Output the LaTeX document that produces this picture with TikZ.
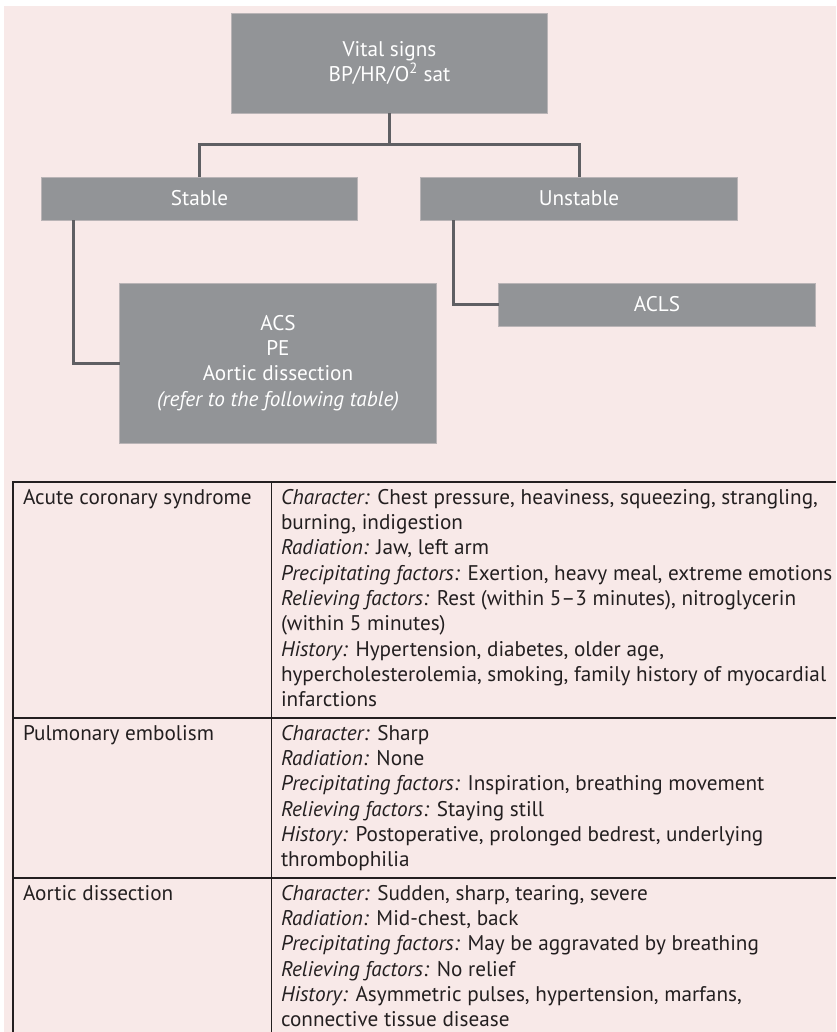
\documentclass[tikz,border=0pt]{standalone}
\usepackage{fontspec}
\setmainfont{PT Sans}
\usetikzlibrary{calc}
\definecolor{bgpink}{HTML}{F8E9E8}
\definecolor{boxgrey}{HTML}{929497}
\definecolor{boxedge}{HTML}{B9B4B6}
\definecolor{connline}{HTML}{5F5F63}
\definecolor{inkdark}{HTML}{231F20}
\begin{document}
\begin{tikzpicture}[x=0.75pt,y=-0.75pt,
  every node/.style={inner sep=0pt,outer sep=0pt},
  txt/.style={font=\fontsize{15.9}{19}\selectfont},
  greybox/.style={txt,rectangle,fill=boxgrey,draw=boxedge,line width=0.6pt,
    text=white,align=center,minimum width=237.5pt},
  conn/.style={draw=connline,line width=2.25pt},
  rule/.style={draw=inkdark,line width=0.9pt},
  cell/.style={txt,text=inkdark,align=left,anchor=north west}]
\useasboundingbox (0,0) rectangle (836,1032);
\fill[white] (0,0) rectangle (836,1032);
\fill[bgpink] (4,6) rectangle (836,1032);

% flow chart
\node[greybox,minimum height=75pt] (vital) at (389.5,63)
  {Vital signs\\BP/HR/O\textsuperscript{2} sat};
\node[greybox,minimum height=32.25pt] (stable) at (199.5,198.5) {Stable};
\node[greybox,minimum height=32.25pt] (unstable) at (579,198.5) {Unstable};
\node[greybox,minimum height=120pt] (causes) at (278,363)
  {ACS\\PE\\Aortic dissection\\\textit{(refer to the following table)}};
\node[greybox,minimum height=32.25pt] (acls) at (657,304.5) {ACLS};

\coordinate (split) at (389.5,144.5);
\draw[conn] (vital.south) -- (split);
\draw[conn] (stable.north) |- (split) -| (unstable.north);
\draw[conn] ([xshift=24.4pt]stable.south west) |- (causes.west);
\draw[conn] ([xshift=24.75pt]unstable.south west) |- (acls.west);

% table rules
\coordinate (tl) at (13,482);
\coordinate (tm) at (271.5,482);
\draw[rule] (836,482) -- (tl) -- (13,1032);
\draw[rule] (tm) -- (271.5,1032);
\draw[rule] (13,718) -- (836,718);
\draw[rule] (13,878) -- (836,878);

% table cells
\node[cell] (acsname) at (23,489) {Acute coronary syndrome};
\node[cell] (acstext) at (281,489) {%
  \textit{Character:} Chest pressure, heaviness, squeezing, strangling,\\
  burning, indigestion\\
  \textit{Radiation:} Jaw, left arm\\
  \textit{Precipitating factors:} Exertion, heavy meal, extreme emotions\\
  \textit{Relieving factors:} Rest (within 5–3 minutes), nitroglycerin\\
  (within 5 minutes)\\
  \textit{History:} Hypertension, diabetes, older age,\\
  hypercholesterolemia, smoking, family history of myocardial\\
  infarctions};
\node[cell] (pename) at (23,725) {Pulmonary embolism};
\node[cell] (petext) at (281,725) {%
  \textit{Character:} Sharp\\
  \textit{Radiation:} None\\
  \textit{Precipitating factors:} Inspiration, breathing movement\\
  \textit{Relieving factors:} Staying still\\
  \textit{History:} Postoperative, prolonged bedrest, underlying\\
  thrombophilia};
\node[cell] (adname) at (23,885) {Aortic dissection};
\node[cell] (adtext) at (281,885) {%
  \textit{Character:} Sudden, sharp, tearing, severe\\
  \textit{Radiation:} Mid-chest, back\\
  \textit{Precipitating factors:} May be aggravated by breathing\\
  \textit{Relieving factors:} No relief\\
  \textit{History:} Asymmetric pulses, hypertension, marfans,\\
  connective tissue disease};
\end{tikzpicture}
\end{document}
